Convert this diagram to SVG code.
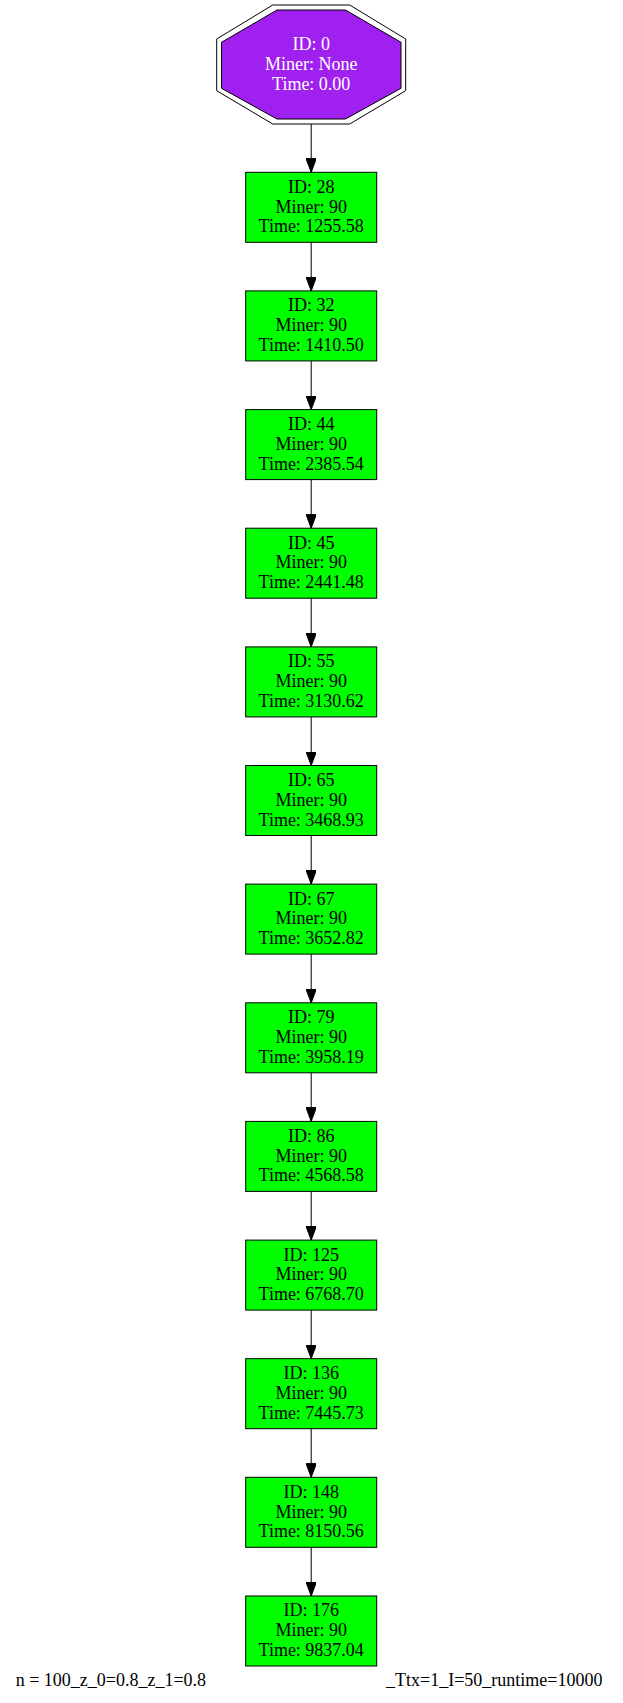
<svg xmlns="http://www.w3.org/2000/svg" width="623" height="1703" viewBox="0 0 623 1703">
<style>
text{font-family:"Liberation Serif","Times New Roman",serif;font-size:18px;text-anchor:middle;fill:#000}
.box{fill:#00ff00;stroke:#000;stroke-width:1}
.oct{fill:#a020f0;stroke:#000;stroke-width:1}
.octo{fill:none;stroke:#000;stroke-width:1}
.white{fill:#fff}
.edge{stroke:#000;stroke-width:1;fill:none;marker-end:url(#ah)}
.lbl{text-anchor:start}
</style>
<defs>
<marker id="ah" viewBox="0 0 14 10.5" refX="14" refY="5.25" markerWidth="14" markerHeight="10.5" markerUnits="userSpaceOnUse" orient="auto">
<path d="M0,0 L14,5.25 L0,10.5 z" fill="#000" stroke="#000" stroke-width="1"/>
</marker>
</defs>
<rect width="623" height="1703" fill="#fff"/>
<g id="edges">
<path class="edge" d="M311.2,124 V172.3"/>
<path class="edge" d="M311.2,242.3 V290.9"/>
<path class="edge" d="M311.2,360.9 V409.6"/>
<path class="edge" d="M311.2,479.6 V528.2"/>
<path class="edge" d="M311.2,598.2 V646.9"/>
<path class="edge" d="M311.2,716.9 V765.5"/>
<path class="edge" d="M311.2,835.5 V884.1"/>
<path class="edge" d="M311.2,954.1 V1002.8"/>
<path class="edge" d="M311.2,1072.8 V1121.4"/>
<path class="edge" d="M311.2,1191.4 V1240.1"/>
<path class="edge" d="M311.2,1310.1 V1358.7"/>
<path class="edge" d="M311.2,1428.7 V1477.3"/>
<path class="edge" d="M311.2,1547.3 V1596"/>
</g>
<g id="node0">
<polygon class="octo" points="272.7,5 349.7,5 405.7,39 405.7,90.7 349.7,124 272.7,124 216.7,90.7 216.7,39"/>
<polygon class="oct" points="277,10 345.5,10 401,42.3 401,88.3 345.5,119 277,119 221.5,88.3 221.5,42.3"/>
<text class="white" x="311.2" y="49.9">ID: 0</text>
<text class="white" x="311.2" y="69.8">Miner: None</text>
<text class="white" x="311.2" y="89.7">Time: 0.00</text>
</g>
<g id="node28"><rect class="box" x="245.7" y="172.3" width="131" height="70"/><text x="311.2" y="192.7">ID: 28</text><text x="311.2" y="212.5">Miner: 90</text><text x="311.2" y="232.3">Time: 1255.58</text></g>
<g id="node32"><rect class="box" x="245.7" y="290.9" width="131" height="70"/><text x="311.2" y="311.3">ID: 32</text><text x="311.2" y="331.1">Miner: 90</text><text x="311.2" y="350.9">Time: 1410.50</text></g>
<g id="node44"><rect class="box" x="245.7" y="409.6" width="131" height="70"/><text x="311.2" y="430">ID: 44</text><text x="311.2" y="449.8">Miner: 90</text><text x="311.2" y="469.6">Time: 2385.54</text></g>
<g id="node45"><rect class="box" x="245.7" y="528.2" width="131" height="70"/><text x="311.2" y="548.6">ID: 45</text><text x="311.2" y="568.4">Miner: 90</text><text x="311.2" y="588.2">Time: 2441.48</text></g>
<g id="node55"><rect class="box" x="245.7" y="646.9" width="131" height="70"/><text x="311.2" y="667.3">ID: 55</text><text x="311.2" y="687.1">Miner: 90</text><text x="311.2" y="706.9">Time: 3130.62</text></g>
<g id="node65"><rect class="box" x="245.7" y="765.5" width="131" height="70"/><text x="311.2" y="785.9">ID: 65</text><text x="311.2" y="805.7">Miner: 90</text><text x="311.2" y="825.5">Time: 3468.93</text></g>
<g id="node67"><rect class="box" x="245.7" y="884.1" width="131" height="70"/><text x="311.2" y="904.5">ID: 67</text><text x="311.2" y="924.3">Miner: 90</text><text x="311.2" y="944.1">Time: 3652.82</text></g>
<g id="node79"><rect class="box" x="245.7" y="1002.8" width="131" height="70"/><text x="311.2" y="1023.2">ID: 79</text><text x="311.2" y="1043">Miner: 90</text><text x="311.2" y="1062.8">Time: 3958.19</text></g>
<g id="node86"><rect class="box" x="245.7" y="1121.4" width="131" height="70"/><text x="311.2" y="1141.8">ID: 86</text><text x="311.2" y="1161.6">Miner: 90</text><text x="311.2" y="1181.4">Time: 4568.58</text></g>
<g id="node125"><rect class="box" x="245.7" y="1240.1" width="131" height="70"/><text x="311.2" y="1260.5">ID: 125</text><text x="311.2" y="1280.3">Miner: 90</text><text x="311.2" y="1300.1">Time: 6768.70</text></g>
<g id="node136"><rect class="box" x="245.7" y="1358.7" width="131" height="70"/><text x="311.2" y="1379.1">ID: 136</text><text x="311.2" y="1398.9">Miner: 90</text><text x="311.2" y="1418.7">Time: 7445.73</text></g>
<g id="node148"><rect class="box" x="245.7" y="1477.3" width="131" height="70"/><text x="311.2" y="1497.7">ID: 148</text><text x="311.2" y="1517.5">Miner: 90</text><text x="311.2" y="1537.3">Time: 8150.56</text></g>
<g id="node176"><rect class="box" x="245.7" y="1596" width="131" height="70"/><text x="311.2" y="1616.4">ID: 176</text><text x="311.2" y="1636.2">Miner: 90</text><text x="311.2" y="1656">Time: 9837.04</text></g>
<g id="label">
<text class="lbl" x="15.7" y="1686">n = 100_z_0=0.8_z_1=0.8</text>
<text class="lbl" x="386" y="1686">_Ttx=1_I=50_runtime=10000</text>
</g>
</svg>
